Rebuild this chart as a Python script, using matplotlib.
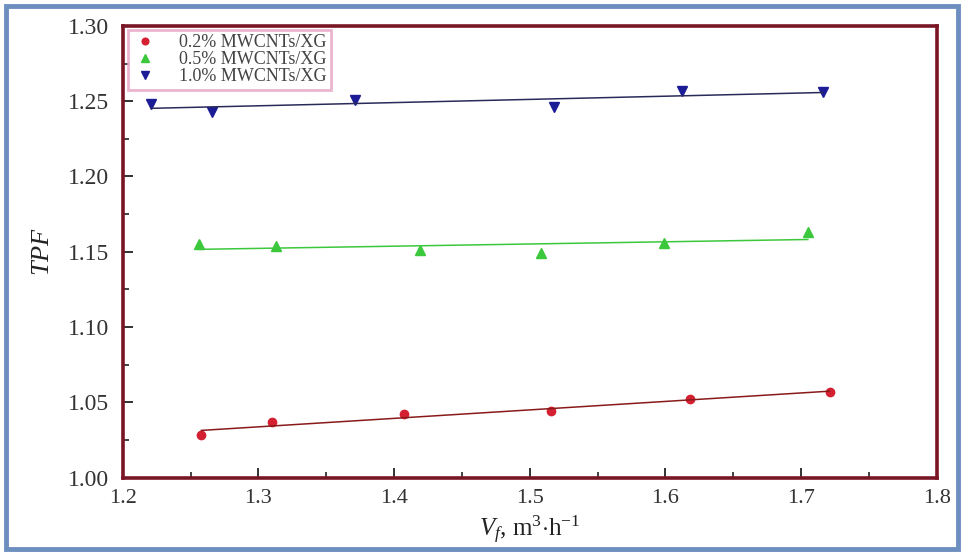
import numpy as np
import matplotlib
matplotlib.use("Agg")
import matplotlib.pyplot as plt
from matplotlib.patches import Rectangle
from matplotlib.ticker import MultipleLocator

# flow rate values
x_02 = [1.258, 1.310, 1.407, 1.516, 1.618, 1.721]
y_02 = [1.028, 1.037, 1.042, 1.044, 1.052, 1.057]

x_05 = [1.256, 1.313, 1.419, 1.508, 1.599, 1.705]
y_05 = [1.155, 1.154, 1.151, 1.149, 1.156, 1.163]

x_10 = [1.221, 1.266, 1.371, 1.518, 1.612, 1.716]
y_10 = [1.248, 1.243, 1.251, 1.246, 1.257, 1.256]

labels = ["0.2% MWCNTs/XG", "0.5% MWCNTs/XG", "1.0% MWCNTs/XG"]

plt.rcParams['font.family'] = ['Liberation Serif', 'DejaVu Serif']
plt.rcParams['mathtext.fontset'] = 'custom'
plt.rcParams['mathtext.rm'] = 'Liberation Serif'
plt.rcParams['mathtext.it'] = 'Liberation Serif:italic'

fig = plt.figure(figsize=(9.64, 5.55), dpi=100)
fig.patch.set_facecolor('white')

# window-like frame around the picture
frame = Rectangle((0.006, 0.01), 0.988, 0.98, transform=fig.transFigure,
                  facecolor='none', edgecolor='#6d8fbf', linewidth=3.5, zorder=10)
fig.add_artist(frame)

ax = fig.add_axes([0.1273, 0.1396, 0.8444, 0.8136])
maroon = '#7a1525'

series = [
    (x_02, y_02, 'o', '#d42030', '#8a1a1a', 6),
    (x_05, y_05, '^', '#3cc83c', '#3cc83c', 6.5),
    (x_10, y_10, 'v', '#1c1c96', '#2a2a5a', 6.5),
]
handles = []
for (xs, ys, mk, mc, lc, ms), lab in zip(series, labels):
    h, = ax.plot(xs, ys, linestyle='none', marker=mk, color=mc, markersize=ms, label=lab)
    handles.append(h)
    # linear fit line
    k, b = np.polyfit(xs, ys, 1)
    xx = np.array([min(xs), max(xs)])
    ax.plot(xx, k * xx + b, color=lc, linewidth=1.1)

ax.set_xlim(1.2, 1.8)
ax.set_ylim(1.0, 1.3)
ax.xaxis.set_major_locator(MultipleLocator(0.1))
ax.xaxis.set_minor_locator(MultipleLocator(0.05))
ax.yaxis.set_major_locator(MultipleLocator(0.05))
ax.yaxis.set_minor_locator(MultipleLocator(0.025))
ax.set_xticks(ax.get_xticks())
ax.set_xticklabels([f"{v:.1f}" for v in ax.get_xticks()])
ax.set_yticks(ax.get_yticks())
ax.set_yticklabels([f"{v:.2f}" for v in ax.get_yticks()])
ax.set_xlim(1.2, 1.8)
ax.set_ylim(1.0, 1.3)
ax.tick_params(which='both', direction='in', top=False, right=False,
               color='#222222', labelcolor='#333333')
ax.tick_params(axis='y', labelsize=17, pad=10)
ax.tick_params(axis='x', labelsize=16, pad=8)
ax.tick_params(which='major', length=7, width=1.3)
ax.tick_params(which='minor', length=4, width=1.2)

for s in ax.spines.values():
    s.set_color(maroon)
    s.set_linewidth(2.6)

ax.set_xlabel(r"$V_{f}$, m$^{3}$$\cdot$h$^{-1}$", fontsize=18, color='#222222', labelpad=4)
ax.set_ylabel(r"$TPF$", fontsize=19, color='#222222', labelpad=10)

leg = ax.legend(handles=handles, loc='upper left', bbox_to_anchor=(0.006, 0.992),
                borderaxespad=0, fontsize=13, frameon=True, fancybox=False,
                handlelength=1.4, handletextpad=1.2, labelspacing=0.0,
                borderpad=0.25, markerscale=0.8)
leg.get_frame().set_edgecolor('#e6a2c4')
leg.get_frame().set_linewidth(2)
for t in leg.get_texts():
    t.set_color('#444444')

fig.savefig('out.png', dpi=100)
